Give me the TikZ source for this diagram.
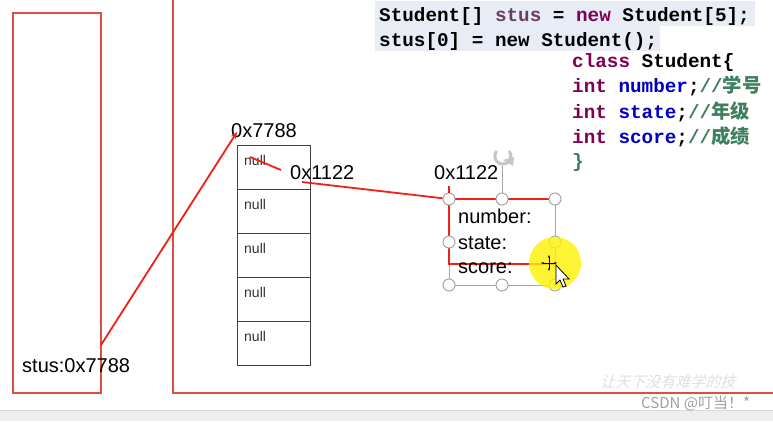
\documentclass[tikz,border=0pt]{standalone}
\usepackage{fontspec}
\setmainfont{Liberation Sans}
\setmonofont{Liberation Mono}
\newfontfamily\cjk{Noto Sans CJK SC}
\usepackage{xcolor}
\usetikzlibrary{calc,arrows.meta}
\definecolor{boxred}{RGB}{222,78,68}
\definecolor{ptr}{RGB}{240,32,22}
\definecolor{kw}{RGB}{127,0,85}
\definecolor{fld}{RGB}{0,0,192}
\definecolor{cmt}{RGB}{63,127,95}
\definecolor{var}{RGB}{106,62,94}
\definecolor{hl}{RGB}{232,237,245}

\begin{document}
\begin{tikzpicture}[x=1pt, y=-1pt,
  cell/.style={draw=black!75, line width=1pt, minimum width=73pt, minimum height=44pt, inner sep=0pt},
  lbl/.style={font=\fontsize{20}{22}\selectfont, inner sep=0pt, anchor=base west},
  nulltxt/.style={font=\fontsize{14}{16}\selectfont, text=black!80, inner sep=0pt, anchor=base west},
  code/.style={font=\ttfamily\bfseries\fontsize{19.3}{22}\selectfont, inner sep=0pt, anchor=base west},
  handle/.style={circle, draw=gray!70, fill=white, line width=1pt, minimum size=12pt, inner sep=0pt},
  ref/.style={draw=ptr, line width=1.8pt}]
  \useasboundingbox (0,0) rectangle (773,421);
  \fill[white] (0,0) rectangle (773,421);
  % bottom strip
  \fill[gray!13] (0,410) rectangle (773,421);
  \draw[gray!30] (0,410) -- (773,410);

  % stack and heap
  \node[draw=boxred, line width=1.8pt, minimum width=88pt, minimum height=380pt, inner sep=0pt] (stack) at (57,203) {};
  \draw[boxred, line width=1.8pt] (173,-2) -- (173,393) -- (775,393);

  % code
  \fill[hl] (375,1) rectangle (755,26);
  \fill[hl] (375,26) rectangle (660,51);
  \node[code] (l1) at (379,21) {Student[] \textcolor{var}{stus} = \textcolor{kw}{new} Student[5];};
  \node[code] (l2) at (379,46) {stus[0] = new Student();};
  \node[code] (k1) at (572,67) {\textcolor{kw}{class} Student\{};
  \node[code] (k2) at (572,92) {\textcolor{kw}{int} \textcolor{fld}{number};\textcolor{cmt}{//{\cjk 学号}}};
  \node[code] (k3) at (572,118) {\textcolor{kw}{int} \textcolor{fld}{state};\textcolor{cmt}{//{\cjk 年级}}};
  \node[code] (k4) at (572,143) {\textcolor{kw}{int} \textcolor{fld}{score};\textcolor{cmt}{//{\cjk 成绩}}};
  \node[code, text=cmt] (k5) at (572,167) {\}};

  % array
  \foreach \i in {0,...,4} {
    \node[cell] (c\i) at (273.5,167+44*\i) {};
    \node[nulltxt] (n\i) at (244,165+44*\i) {null};
  }
  \node[lbl] (a7788) at (231,137) {0x7788};
  \node[lbl] (a1122) at (290,179) {0x1122};
  \node[lbl] (stus) at (22,372) {stus:0x7788};

  % object
  \node[lbl] (o1122) at (434,179) {0x1122};
  \draw[gray!70, line width=1pt] (449,199) rectangle (555,285);
  \draw[gray!70, line width=1pt] (502,199) -- (502,166);
  \draw[gray!45, line width=3pt] (509,151) arc[start angle=-40, end angle=220, radius=8];
  \fill[gray!45] (514,157) -- (503,160) -- (513,166) -- cycle;
  \draw[ptr, line width=1.6pt] (555,199) -- (449,199) -- (449,264) -- (555,264);
  \node[lbl] (fnum) at (458,223) {number:};
  \node[lbl] (fsta) at (458,249) {state:};
  \node[lbl] (fsco) at (458,273) {score:};
  \node[handle] (h1) at (449,199) {};
  \node[handle] (h2) at (502,199) {};
  \node[handle] (h3) at (555,199) {};
  \node[handle] (h4) at (449,242) {};
  \node[handle] (h5) at (555,242) {};
  \node[handle] (h6) at (449,285) {};
  \node[handle] (h7) at (502,285) {};
  \node[handle] (h8) at (555,285) {};

  % references
  \coordinate (sp) at (101,345);
  \coordinate (ap) at (237,132);
  \draw[ref, -{Stealth[length=7pt,width=6pt]}] (sp) -- (ap);
  \coordinate (s1) at (250,157);
  \coordinate (s2) at (281,170);
  \draw[ref] (s1) -- (s2);
  \coordinate (lk) at (302,182);
  \draw[ref] (lk) -- (h1);
  \coordinate (ov) at (449,186);
  \draw[ref] (ov) -- (h1);

  % pointer highlight
  \fill[yellow, opacity=0.8] (555,263) circle[radius=26];
  \draw[line width=1pt, {Stealth[length=3pt]}-{Stealth[length=3pt]}] (541,263) -- (557,263);
  \draw[line width=1pt, {Stealth[length=3pt]}-{Stealth[length=3pt]}] (549,255) -- (549,271);
  \filldraw[fill=white, draw=black, line width=0.8pt] (556,265) -- (556,284) -- (560,280) -- (563,287) -- (566,286) -- (563,279) -- (569,279) -- cycle;

  % watermark
  \node[font=\cjk\fontsize{15}{15}\selectfont, text=gray!25, anchor=base west, inner sep=0pt, xslant=0.3] (wm) at (600,387) {让天下没有难学的技};
  \node[font=\cjk\fontsize{15}{15}\selectfont, text=gray!75, anchor=base west, inner sep=0pt] (csdn) at (641,408) {CSDN @叮当！*};
\end{tikzpicture}
\end{document}
